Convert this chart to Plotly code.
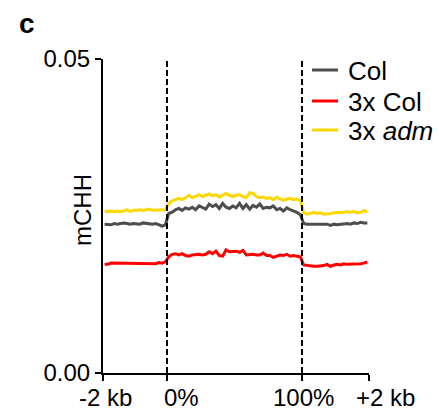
import numpy as np
import plotly.graph_objects as go

# ---- data ----
tick_labels = ["-2 kb", "0%", "100%", "+2 kb"]
series_names = ["Col", "3x Col", "3x <i>adm</i>"]

col_up = [0.0237, 0.0237, 0.0236, 0.0238, 0.0237, 0.0238, 0.0239, 0.0238, 0.0237, 0.0238,
          0.0238, 0.0237, 0.0239, 0.0238, 0.0238, 0.0237, 0.0238, 0.0236, 0.0234, 0.0236]
col_body = [0.0254, 0.0256, 0.0260, 0.0262, 0.0259, 0.0263, 0.0261, 0.0264, 0.0260, 0.0266,
            0.0263, 0.0261, 0.0269, 0.0265, 0.0268, 0.0262, 0.0270, 0.0264, 0.0262, 0.0266,
            0.0263, 0.0270, 0.0262, 0.0268, 0.0261, 0.0267, 0.0264, 0.0269, 0.0262, 0.0264,
            0.0263, 0.0266, 0.0260, 0.0262, 0.0258, 0.0263, 0.0260, 0.0258, 0.0256, 0.0252]
col_down = [0.0238, 0.0237, 0.0237, 0.0237, 0.0236, 0.0237, 0.0236, 0.0237, 0.0235, 0.0237,
            0.0236, 0.0237, 0.0238, 0.0238, 0.0237, 0.0239, 0.0238, 0.0240, 0.0239, 0.0239]

col3_up = [0.0173, 0.0173, 0.0175, 0.0175, 0.0174, 0.0175, 0.0174, 0.0174, 0.0174, 0.0174,
           0.0174, 0.0174, 0.0175, 0.0175, 0.0175, 0.0175, 0.0174, 0.0176, 0.0175, 0.0177]
col3_body = [0.0185, 0.0189, 0.0190, 0.0188, 0.0190, 0.0187, 0.0186, 0.0188, 0.0189, 0.0189,
             0.0188, 0.0189, 0.0193, 0.0190, 0.0194, 0.0187, 0.0186, 0.0196, 0.0193, 0.0193,
             0.0194, 0.0192, 0.0195, 0.0188, 0.0189, 0.0189, 0.0188, 0.0188, 0.0191, 0.0187,
             0.0187, 0.0184, 0.0186, 0.0188, 0.0187, 0.0189, 0.0186, 0.0187, 0.0186, 0.0185]
col3_down = [0.0172, 0.0171, 0.0171, 0.0170, 0.0170, 0.0170, 0.0171, 0.0173, 0.0170, 0.0172,
             0.0173, 0.0172, 0.0174, 0.0173, 0.0173, 0.0174, 0.0173, 0.0174, 0.0175, 0.0177]

adm_up = [0.0258, 0.0257, 0.0258, 0.0257, 0.0258, 0.0257, 0.0258, 0.0260, 0.0257, 0.0259,
          0.0259, 0.0260, 0.0259, 0.0260, 0.0261, 0.0259, 0.0259, 0.0259, 0.0260, 0.0260]
adm_body = [0.0270, 0.0274, 0.0276, 0.0278, 0.0276, 0.0280, 0.0283, 0.0279, 0.0282, 0.0284,
            0.0281, 0.0283, 0.0285, 0.0282, 0.0284, 0.0280, 0.0283, 0.0286, 0.0283, 0.0281,
            0.0283, 0.0284, 0.0281, 0.0279, 0.0287, 0.0286, 0.0281, 0.0279, 0.0280, 0.0278,
            0.0279, 0.0276, 0.0280, 0.0278, 0.0275, 0.0277, 0.0278, 0.0276, 0.0277, 0.0275]
adm_down = [0.0255, 0.0253, 0.0254, 0.0256, 0.0254, 0.0255, 0.0253, 0.0253, 0.0254, 0.0255,
            0.0255, 0.0256, 0.0256, 0.0257, 0.0256, 0.0257, 0.0255, 0.0256, 0.0259, 0.0256]

# ---- bin positions (upstream 2 kb | gene body scaled | downstream 2 kb) ----
UP_W, BODY_W, DOWN_W = 64.0, 135.0, 67.0
tick_pos = [0.0, UP_W, UP_W + BODY_W, UP_W + BODY_W + DOWN_W]
# horizontal nudge (px) of each x label's left edge relative to its tick, as in the reference
tick_label_left_px = [-26, -5, -31, -15]

def bins(up, body, down):
    xu = [(i + 0.5) * UP_W / len(up) for i in range(len(up))]
    xb = [UP_W + (i + 0.5) * BODY_W / len(body) for i in range(len(body))]
    xd = [UP_W + BODY_W + (i + 0.5) * DOWN_W / len(down) for i in range(len(down))]
    return xu + xb + xd, list(up) + list(body) + list(down)

colors = ["#4d4d4d", "#ff0000", "#ffd700"]
series = [(col_up, col_body, col_down), (col3_up, col3_body, col3_down), (adm_up, adm_body, adm_down)]

FONT = "Arial, Liberation Sans, sans-serif"
FS = 24
LFS = 26
L, R, T, B = 103, 70, 59, 39
W = 439 - L - R
H = 412 - T - B

def px(xp):
    return (xp - L) / W

def py(yp):
    return (412 - B - yp) / H

fig = go.Figure()

for name, (u, b, d), c in zip(series_names, series, colors):
    x, y = bins(u, b, d)
    fig.add_trace(go.Scatter(x=x, y=y, mode="lines", name=name, showlegend=False,
                             line=dict(color=c, width=3)))

for xv in tick_pos[1:3]:
    fig.add_shape(type="line", x0=xv, x1=xv, y0=0, y1=0.05, xref="x", yref="y",
                  line=dict(color="black", width=2, dash="6px,3px"))

annotations = []
# x tick labels (offset as in the reference)
for lab, xv, dx in zip(tick_labels, tick_pos, tick_label_left_px):
    annotations.append(dict(text=lab, x=xv, y=py(397), xref="x", yref="paper",
                            xshift=dx, showarrow=False, xanchor="left", yanchor="middle",
                            font=dict(size=FS)))

# legend (drawn as key lines + text)
legend_rows = [70, 101, 130]
for name, c, ry in zip(series_names, colors, legend_rows):
    fig.add_shape(type="line", xref="paper", yref="paper", x0=px(312), x1=px(338),
                  y0=py(ry), y1=py(ry), line=dict(color=c, width=3))
    annotations.append(dict(text=name, x=px(346), y=py(ry + 1), xref="paper", yref="paper",
                            showarrow=False, xanchor="left", yanchor="middle",
                            font=dict(size=LFS)))

annotations.append(dict(text="mCHH", x=px(82), y=py(210), xref="paper", yref="paper",
                        showarrow=False, textangle=-90, font=dict(size=FS),
                        xanchor="center", yanchor="middle"))
annotations.append(dict(text="<b>c</b>", x=px(27), y=py(24), xref="paper", yref="paper",
                        showarrow=False, font=dict(size=28), xanchor="center", yanchor="middle"))

fig.update_layout(
    width=439, height=412,
    margin=dict(l=L, r=R, t=T, b=B, autoexpand=False),
    paper_bgcolor="white", plot_bgcolor="white",
    font=dict(family=FONT, color="black", size=FS),
    showlegend=False,
    xaxis=dict(range=[tick_pos[0], tick_pos[-1]], tickvals=tick_pos,
               ticktext=[""] * len(tick_pos),
               showgrid=False, zeroline=False, showline=True, linecolor="black", linewidth=2,
               ticks="outside", ticklen=6, tickwidth=2, tickcolor="black",
               automargin=False),
    yaxis=dict(range=[0, 0.05], tickvals=[0, 0.05], ticktext=["0.00", "0.05"],
               showgrid=False, zeroline=False, showline=True, linecolor="black", linewidth=2,
               ticks="outside", ticklen=6, tickwidth=2, tickcolor="black",
               tickfont=dict(size=FS), automargin=False),
    annotations=annotations,
)

fig.write_html("out.html")
